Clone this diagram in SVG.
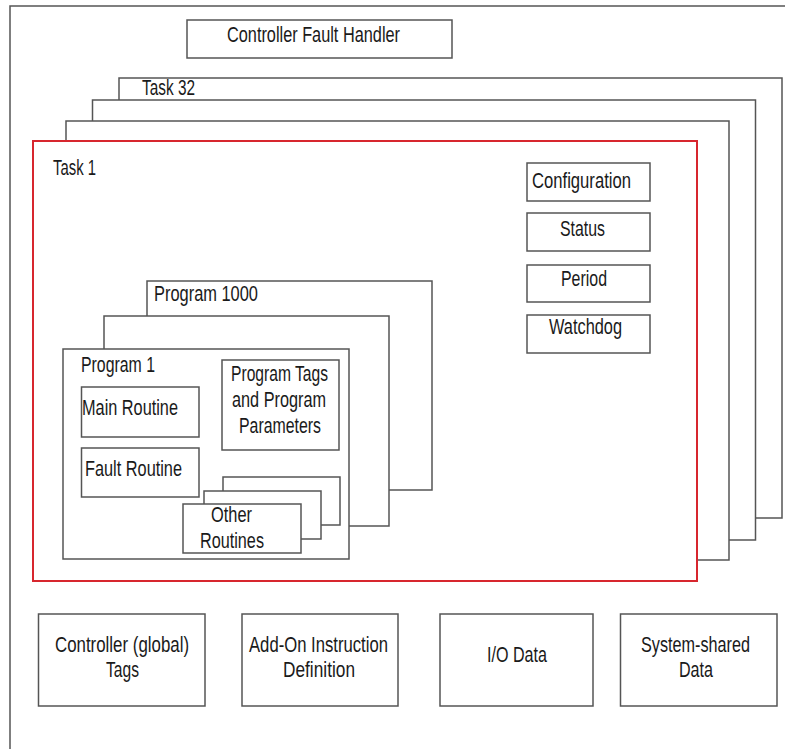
<svg xmlns="http://www.w3.org/2000/svg" width="785" height="749" viewBox="0 0 785 749">
<style>
.b{fill:#fff;stroke:#555;stroke-width:1.5}
.r{fill:#fff;stroke:#d7262e;stroke-width:2}
.t{font-family:"Liberation Sans",Arial,sans-serif;font-size:21.5px;fill:#1a1a1a}
</style>
<rect width="785" height="749" fill="#fff"/>
<path d="M10,749 V6 H785" fill="none" stroke="#555" stroke-width="1.5"/>
<g id="fault-handler">
<rect class="b" x="187" y="20" width="265" height="38"/>
<text class="t" x="227" y="42" textLength="173" lengthAdjust="spacingAndGlyphs">Controller Fault Handler</text>
</g>
<g id="task32">
<rect class="b" x="119" y="78" width="663" height="440"/>
<text class="t" x="142" y="95" textLength="53" lengthAdjust="spacingAndGlyphs">Task 32</text>
</g>
<g id="task-b"><rect class="b" x="92.5" y="100" width="663" height="440"/></g>
<g id="task-c"><rect class="b" x="66" y="121" width="663" height="439"/></g>
<g id="task1">
<rect class="r" x="33" y="141" width="664" height="440"/>
<text class="t" x="53" y="175" textLength="43" lengthAdjust="spacingAndGlyphs">Task 1</text>
</g>
<g id="configuration">
<rect class="b" x="527" y="163" width="123" height="38"/>
<text class="t" x="532" y="188" textLength="99" lengthAdjust="spacingAndGlyphs">Configuration</text>
</g>
<g id="status">
<rect class="b" x="527" y="213" width="123" height="38"/>
<text class="t" x="560" y="236" textLength="45" lengthAdjust="spacingAndGlyphs">Status</text>
</g>
<g id="period">
<rect class="b" x="527" y="265" width="123" height="37"/>
<text class="t" x="561" y="286" textLength="46" lengthAdjust="spacingAndGlyphs">Period</text>
</g>
<g id="watchdog">
<rect class="b" x="527" y="315" width="123" height="38"/>
<text class="t" x="549" y="334" textLength="73" lengthAdjust="spacingAndGlyphs">Watchdog</text>
</g>
<g id="program1000">
<rect class="b" x="147" y="281" width="285" height="209"/>
<text class="t" x="154" y="301" textLength="104" lengthAdjust="spacingAndGlyphs">Program 1000</text>
</g>
<g id="program-b"><rect class="b" x="104" y="316" width="285" height="210"/></g>
<g id="program1">
<rect class="b" x="63" y="349" width="286" height="210"/>
<text class="t" x="81" y="372" textLength="74" lengthAdjust="spacingAndGlyphs">Program 1</text>
</g>
<g id="main-routine">
<rect class="b" x="81.5" y="387" width="117.5" height="50"/>
<text class="t" x="82" y="415" textLength="96" lengthAdjust="spacingAndGlyphs">Main Routine</text>
</g>
<g id="program-tags">
<rect class="b" x="222" y="360" width="117" height="90"/>
<text class="t" x="231" y="381" textLength="97" lengthAdjust="spacingAndGlyphs">Program Tags</text>
<text class="t" x="232" y="407" textLength="94" lengthAdjust="spacingAndGlyphs">and Program</text>
<text class="t" x="239" y="433" textLength="82" lengthAdjust="spacingAndGlyphs">Parameters</text>
</g>
<g id="fault-routine">
<rect class="b" x="81.5" y="448" width="117.5" height="49"/>
<text class="t" x="85" y="476" textLength="97" lengthAdjust="spacingAndGlyphs">Fault Routine</text>
</g>
<g id="other-routines">
<rect class="b" x="223" y="477" width="117" height="48"/>
<rect class="b" x="204" y="491" width="117" height="48"/>
<rect class="b" x="183" y="504" width="118" height="49"/>
<text class="t" x="211" y="522" textLength="41" lengthAdjust="spacingAndGlyphs">Other</text>
<text class="t" x="200" y="548" textLength="64" lengthAdjust="spacingAndGlyphs">Routines</text>
</g>
<g id="controller-tags">
<rect class="b" x="38.5" y="614" width="166.5" height="92"/>
<text class="t" x="55" y="652" textLength="134" lengthAdjust="spacingAndGlyphs">Controller (global)</text>
<text class="t" x="106" y="677" textLength="33" lengthAdjust="spacingAndGlyphs">Tags</text>
</g>
<g id="aoi-definition">
<rect class="b" x="242" y="614" width="156" height="92"/>
<text class="t" x="249" y="652" textLength="139" lengthAdjust="spacingAndGlyphs">Add-On Instruction</text>
<text class="t" x="283" y="677" textLength="72" lengthAdjust="spacingAndGlyphs">Definition</text>
</g>
<g id="io-data">
<rect class="b" x="440" y="614" width="153" height="92"/>
<text class="t" x="487" y="662" textLength="60" lengthAdjust="spacingAndGlyphs">I/O Data</text>
</g>
<g id="system-shared">
<rect class="b" x="620.5" y="614" width="156.5" height="92"/>
<text class="t" x="641" y="652" textLength="109" lengthAdjust="spacingAndGlyphs">System-shared</text>
<text class="t" x="679" y="677" textLength="34" lengthAdjust="spacingAndGlyphs">Data</text>
</g>
</svg>
